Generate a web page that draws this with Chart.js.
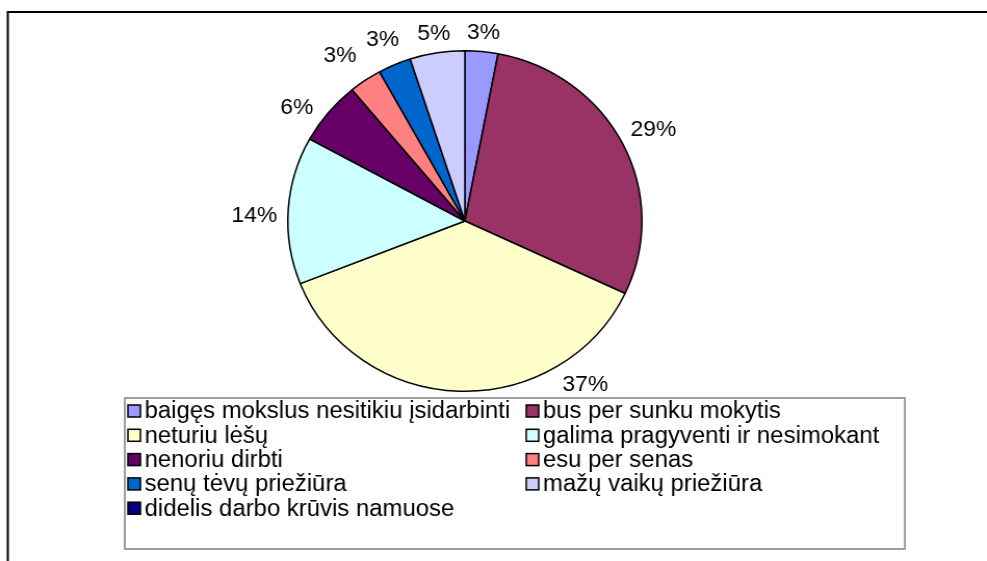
<!DOCTYPE html>
<html>
<head>
<meta charset="utf-8">
<script src="https://cdn.jsdelivr.net/npm/chart.js@4/dist/chart.umd.min.js"></script>
<style>
  html, body { margin: 0; padding: 0; background: #fff; overflow: hidden; }
  #wrap { position: absolute; left: 0; top: 0; width: 949px; height: 561px; transform: scaleX(1.04); transform-origin: 0 0; }
</style>
</head>
<body>
<div id="wrap"><canvas id="chart" width="949" height="561"></canvas></div>
<script>
// categories, values (%), slice colours
const categories = [
	"baigęs mokslus nesitikiu įsidarbinti",
	"bus per sunku mokytis",
	"neturiu lėšų",
	"galima pragyventi ir nesimokant",
	"nenoriu dirbti",
	"esu per senas",
	"senų tėvų priežiūra",
	"mažų vaikų priežiūra",
	"didelis darbo krūvis namuose"
];
const values = [3, 29, 37, 14, 6, 3, 3, 5, 0];
const sliceColors = ["#9999FF", "#993366", "#FFFFCC", "#CCFFFF", "#660066", "#FF8080", "#0066CC", "#CCCCFF", "#000080"];

const LABEL_FONT = "22px 'Liberation Sans', Arial, sans-serif";
const LEGEND_FONT = "23px 'Liberation Sans', Arial, sans-serif";

// outer frame (runs off the right and bottom edges)
const frame = {
	id: "frame",
	beforeDraw(chart){
		const ctx = chart.ctx;
		ctx.save();
		ctx.strokeStyle = "#000";
		ctx.lineWidth = 2;
		ctx.strokeRect(7.5, 12, chart.width + 20, chart.height + 20);
		ctx.restore();
	}
};

// percentage labels outside the slices
const pctLabels = {
	id: "pctLabels",
	afterDatasetsDraw(chart, args, opts){
		const ctx = chart.ctx;
		const data = chart.data.datasets[0].data;
		const total = data.reduce((a, b) => a + b, 0);
		ctx.save();
		ctx.font = LABEL_FONT;
		ctx.fillStyle = "#000";
		ctx.textAlign = "center";
		ctx.textBaseline = "middle";
		chart.getDatasetMeta(0).data.forEach((arc, i) => {
			if(!data[i]) return;
			const p = arc.getProps(["x", "y", "startAngle", "endAngle", "outerRadius"], true);
			const f = opts.anchors[i] != null ? opts.anchors[i] : 0.5;
			const a = p.startAngle + (p.endAngle - p.startAngle) * f;
			const txt = Math.round(data[i] / total * 100) + "%";
			const w = ctx.measureText(txt).width;
			const c = Math.cos(a), s = Math.sin(a);
			const d = p.outerRadius + opts.gap + (opts.extra[i] || 0) + Math.abs(c) * w / 2 + Math.abs(s) * opts.halfHeight;
			ctx.fillText(txt, p.x + c * d, p.y + s * d + 1);
		});
		ctx.restore();
	}
};

// boxed two-column legend below the pie
const boxLegend = {
	id: "boxLegend",
	afterDraw(chart, args, o){
		const ctx = chart.ctx;
		const ds = chart.data.datasets[0];
		ctx.save();
		ctx.fillStyle = "#fff";
		ctx.fillRect(o.left, o.top, o.right - o.left, o.bottom - o.top);
		ctx.strokeStyle = "#808080";
		ctx.lineWidth = 1.5;
		ctx.strokeRect(o.left, o.top, o.right - o.left, o.bottom - o.top);
		ctx.font = LEGEND_FONT;
		ctx.textAlign = "left";
		ctx.textBaseline = "middle";
		chart.data.labels.forEach((lab, i) => {
			const col = i % 2, row = Math.floor(i / 2);
			const x = o.cols[col];
			const y = o.firstRow + row * o.rowStep;
			ctx.fillStyle = ds.backgroundColor[i];
			ctx.fillRect(x, y - o.box / 2, o.box, o.box);
			ctx.strokeStyle = "#000";
			ctx.lineWidth = 1.5;
			ctx.strokeRect(x, y - o.box / 2, o.box, o.box);
			ctx.fillStyle = "#000";
			ctx.fillText(lab, x + o.box + 4, y + 1);
		});
		ctx.restore();
	}
};

new Chart(document.getElementById("chart"), {
	type: "pie",
	data: {
		labels: categories,
		datasets: [{
			data: values,
			backgroundColor: sliceColors,
			borderColor: "#000",
			borderWidth: 1.5
		}]
	},
	options: {
		responsive: false,
		animation: false,
		layout: { padding: { top: 50, bottom: 169, left: 0, right: 55 } },
		plugins: {
			legend: { display: false },
			tooltip: { enabled: false },
			pctLabels: {
				anchors: [0.5, 0.5, 0.22, 0.46, 0.3, 0.35, 0.5, 0.5],
				extra: [0, 0, 0, 0, 0, 9, 5, 0],
				gap: 10,
				halfHeight: 8
			},
			boxLegend: { left: 120, right: 870, top: 398, bottom: 549, cols: [123, 506], firstRow: 411, rowStep: 24.3, box: 12 }
		}
	},
	plugins: [frame, pctLabels, boxLegend]
});
</script>
</body>
</html>
